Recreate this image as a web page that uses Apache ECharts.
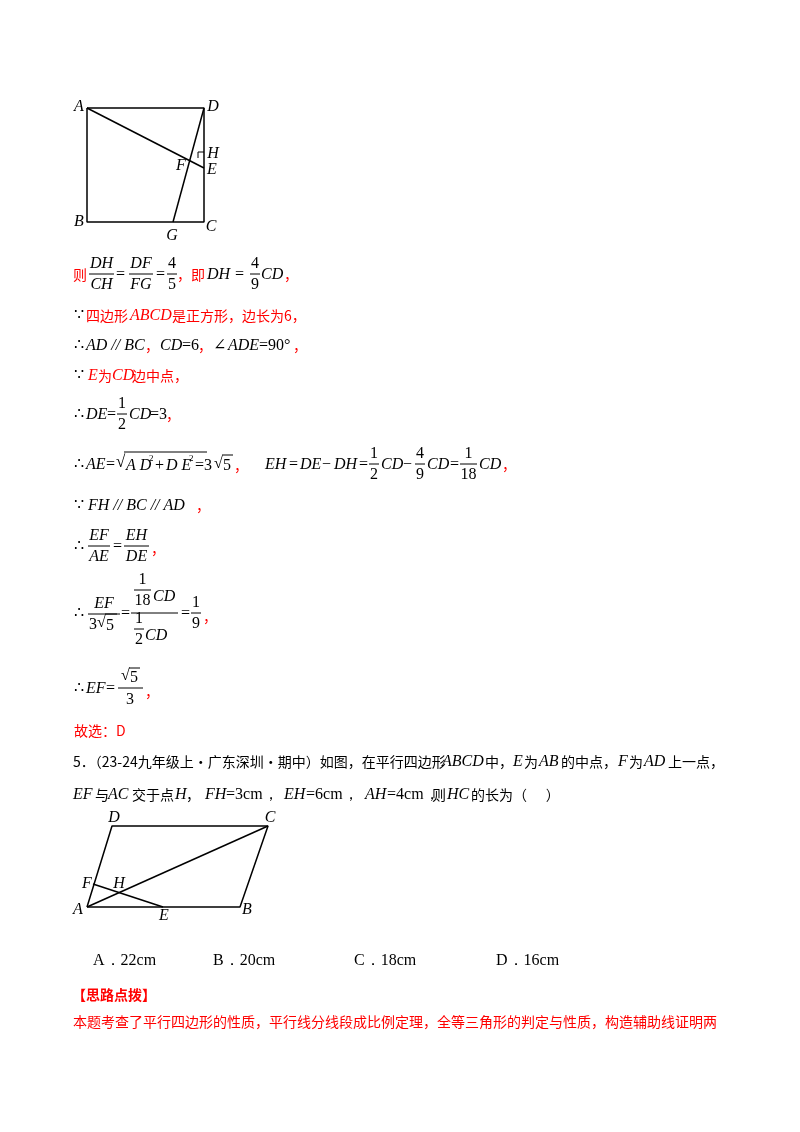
<![CDATA[<!DOCTYPE html><html><head><meta charset="utf-8">
<script src="https://cdn.jsdelivr.net/npm/echarts@6/dist/echarts.min.js"></script>
<style>html,body{margin:0;background:#fff}#c{width:800px;height:1132px}</style></head><body><div id="c"></div>
<script>
// figure 1: square ABCD with AE, DG, right angle at H
const squarePts=[[87,108],[204,108],[204,222],[87,222],[87,108]];
const aePts=[[87,108],[204,168]];
const dgPts=[[204,108],[173,222]];
const rightMark=[[204,152],[198,152],[198,158]];
const sqLabels=[['A',79,107],['D',213,107],['H',213,154],['F',181,166],['E',212,170],['B',79,222],['C',211,227],['G',172,236]];
// figure 2: parallelogram ABCD with AC and EF
const paraPts=[[87,907],[112,826],[268,826],[240,907],[87,907]];
const acPts=[[87,907],[268,826]];
const efPts=[[93,884],[163,907]];
const paraLabels=[['D',114,818],['C',270,818],['F',87,884],['H',119,884],['A',78,910],['E',164,916],['B',247,910]];
const options=[['A．22cm',93],['B．20cm',213],['C．18cm',354],['D．16cm',496]];

const RED='#ff0000', BLK='#000';
const SER='"Liberation Serif","DejaVu Serif",serif', CJK='"Noto Sans CJK SC",sans-serif';
const G=[];
function T(x,y,txt,o={}){G.push({type:'text',x:x,y:y,style:{text:txt,fill:o.c||BLK,font:(o.it?'italic ':'')+(o.b?'bold ':'')+(o.s||16)+'px '+(o.f||SER),verticalAlign:'middle',align:o.al||'left'}});}
function L(x1,y1,x2,y2){G.push({type:'line',shape:{x1:x1,y1:y1,x2:x2,y2:y2},style:{stroke:BLK,lineWidth:1}});}
function F(x,y,n,d,w,it){L(x,y,x+w,y);T(x+w/2,y-10,n,{it:it,al:'center'});T(x+w/2,y+11,d,{it:it,al:'center'});}
const R={c:RED,f:CJK,s:14};
const K={f:CJK,s:14};
// line1
T(73,275,'则',R);F(89,274,'DH','CH',25,1);T(116,275,'=');F(129,274,'DF','FG',24,1);T(156,275,'=');F(167,274,'4','5',10);
T(177,275,'，即',R);T(207,275,'DH =',{it:1});F(250,274,'4','9',10);T(261,275,'CD',{it:1});T(284,275,'，',R);
T(74,316,'∵');T(86,316,'四边形',R);T(130,316,'ABCD',{it:1,c:RED});T(172,316,'是正方形，边长为6，',R);
T(74,346,'∴');T(86,346,'AD // BC',{it:1});T(145,346,'，',R);T(160,346,'CD',{it:1});T(182,346,'=6',{});T(198,346,'，',R);T(213,346,'∠',{});T(228,346,'ADE',{it:1});T(259,346,'=90°',{});T(293,346,'，',R);
T(74,376,'∵');T(88,376,'E',{it:1,c:RED});T(98,376,'为',R);T(112,376,'CD',{it:1,c:RED});T(132,376,'边中点，',R);
T(74,415,'∴');T(86,415,'DE',{it:1});T(107,415,'=');F(117,414,'1','2',10);T(129,415,'CD',{it:1});T(150,415,'=3');T(166,415,'，',R);
// line AE
T(74,465,'∴');T(86,465,'AE',{it:1});T(106,465,'=');T(116,463,'√',{s:17});L(124,452,207,452);T(126,466,'A D',{it:1});T(149,459,'2',{s:9});T(155,466,'+',{});T(166,466,'D E',{it:1});T(189,459,'2',{s:9});
T(195,466,'=3');T(214,464,'√',{s:16});L(222,455,233,455);T(223,466,'5');T(234,466,'，',R);
T(265,465,'EH',{it:1});T(289,465,'=');T(300,465,'DE',{it:1});T(322,465,'−');T(334,465,'DH',{it:1});T(359,465,'=');F(369,464,'1','2',10);T(381,465,'CD',{it:1});T(403,465,'−');F(415,464,'4','9',10);T(427,465,'CD',{it:1});T(450,465,'=');F(460,464,'1','18',17);T(479,465,'CD',{it:1});T(502,465,'，',R);
T(74,506,'∵');T(88,506,'FH // BC // AD',{it:1});T(196,506,'，',R);
T(74,547,'∴');F(88,546,'EF','AE',22,1);T(113,547,'=');F(124,546,'EH','DE',25,1);T(151,549,'，',R);
// big fraction
T(74,614,'∴');F(88,614,'EF','',32,1);T(89,625,'3');T(97,623,'√',{s:16});L(105,614,117,614);T(106,626,'5');
T(121,614,'=');L(131,613,178,613);F(134,590,'1','18',17);T(153,597,'CD',{it:1});F(134,629,'1','2',10);T(145,636,'CD',{it:1});
T(181,614,'=');F(191,613,'1','9',10);T(203,617,'，',R);
T(74,689,'∴');T(86,689,'EF',{it:1});T(106,689,'=');T(121,676,'√',{s:16});L(129,668,140,668);T(130,678,'5');L(118,688,143,688);T(130,700,'3',{al:'center'});T(145,692,'，',R);
T(74,731,'故选：D',{c:RED,f:CJK,s:14});
// Q5
T(73,762,'5．（23-24九年级上·广东深圳·期中）如图，在平行四边形',{f:CJK,s:14});T(442,762,'ABCD',{it:1});T(485,762,'中，',K);T(513,762,'E',{it:1});T(524,762,'为',K);T(539,762,'AB',{it:1});T(561,762,'的中点，',K);T(618,762,'F',{it:1});T(629,762,'为',K);T(644,762,'AD',{it:1});T(668,762,'上一点，',K);
T(73,795,'EF',{it:1});T(95,795,'与',K);T(108,795,'AC',{it:1});T(132,795,'交于点',K);T(175,795,'H',{it:1});T(186,795,'，',K);T(205,795,'FH',{it:1});T(226,795,'=3cm，');T(284,795,'EH',{it:1});T(306,795,'=6cm，');T(365,795,'AH',{it:1});T(387,795,'=4cm，');T(432,795,'则',K);T(447,795,'HC',{it:1});T(471,795,'的长为（      ）',K);
options.forEach(o=>T(o[1],961,o[0],{}));
T(72,995,'【思路点拨】',{c:RED,f:CJK,s:14,b:1});
T(73,1022,'本题考查了平行四边形的性质，平行线分线段成比例定理，全等三角形的判定与性质，构造辅助线证明两',{c:RED,f:CJK,s:14});

function lab(arr){arr.forEach(l=>T(l[1],l[2],l[0],{it:1,al:'center',s:16}));}
lab(sqLabels);lab(paraLabels);
const ln=(d)=>({type:'line',data:d,symbol:'none',lineStyle:{color:'#000',width:1.5},silent:true,animation:false});
const ch=echarts.init(document.getElementById('c'));
ch.setOption({animation:false,grid:{left:0,top:0,width:800,height:1132},
xAxis:{type:'value',min:0,max:800,show:false},yAxis:{type:'value',min:0,max:1132,inverse:true,show:false},
series:[ln(squarePts),ln(aePts),ln(dgPts),Object.assign(ln(rightMark),{lineStyle:{color:'#000',width:1}}),ln(paraPts),ln(acPts),ln(efPts)],
graphic:G});
</script></body></html>]]>
